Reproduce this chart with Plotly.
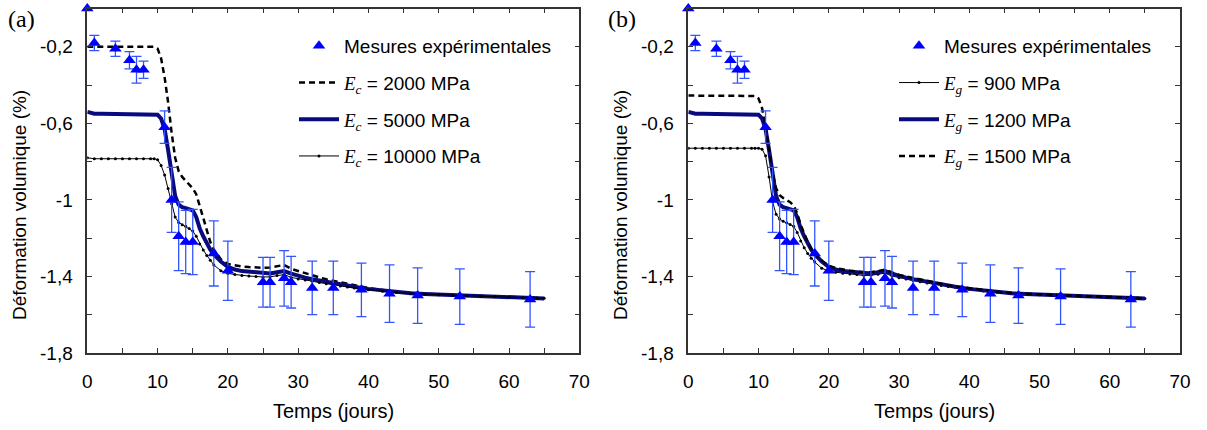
import plotly.graph_objects as go

# experimental measurements (same in both panels)
exp_days = [0, 1, 4, 6, 7, 8, 11, 12, 13, 14, 15, 18, 20, 25, 26, 28, 29, 32, 35, 39, 43, 47, 53, 63]
exp_vals = [0, -0.18, -0.21, -0.27, -0.32, -0.32, -0.62, -1.0, -1.19, -1.22, -1.22, -1.28, -1.37,
            -1.43, -1.43, -1.41, -1.43, -1.46, -1.46, -1.47, -1.49, -1.5, -1.505, -1.52]
exp_err = [0, 0.04, 0.04, 0.045, 0.07, 0.045, 0.085, 0.17, 0.18, 0.165, 0.17, 0.17, 0.155,
           0.13, 0.13, 0.145, 0.135, 0.14, 0.14, 0.14, 0.15, 0.145, 0.145, 0.145]

# simulation time grid (days)
t = [0, 1, 2, 3, 4, 5, 6, 7, 8, 9,
     9.5, 10, 10.5, 11, 11.5, 12, 12.5, 13, 13.5, 14, 14.5, 15, 15.5, 16, 16.5, 17, 17.5,
     18, 19, 20, 21, 22, 23, 24, 25, 26, 27, 28, 29, 30, 31, 32, 33, 34, 35, 36, 37, 38, 39, 40,
     42, 44, 46, 48, 50, 52, 54, 56, 58, 60, 62, 64, 65]

# (a) influence of Ec
ec_2000 = [-0.2] * 10 + [
    -0.2, -0.21, -0.26, -0.36, -0.49, -0.65, -0.78, -0.85, -0.88, -0.9, -0.92, -0.94, -0.97, -1.03, -1.1, -1.16, -1.22,
    -1.26, -1.31, -1.335, -1.343, -1.348, -1.351, -1.353, -1.355, -1.353, -1.345, -1.34, -1.36, -1.372, -1.385,
    -1.397, -1.405, -1.415, -1.423, -1.432, -1.44, -1.448, -1.455, -1.461,
    -1.471, -1.481, -1.487, -1.491, -1.494, -1.497, -1.5, -1.502, -1.505, -1.507, -1.51, -1.513, -1.514]
ec_5000 = [-0.54] + [-0.55] * 9 + [
    -0.55, -0.555, -0.575, -0.63, -0.74, -0.87, -0.98, -1.025, -1.038, -1.043, -1.047, -1.055, -1.09, -1.15, -1.19, -1.23, -1.26,
    -1.285, -1.322, -1.35, -1.364, -1.372, -1.376, -1.38, -1.384, -1.384, -1.378, -1.372, -1.385, -1.398, -1.406,
    -1.414, -1.421, -1.428, -1.436, -1.442, -1.449, -1.455, -1.46, -1.465,
    -1.474, -1.482, -1.488, -1.492, -1.495, -1.498, -1.5, -1.503, -1.505, -1.508, -1.51, -1.513, -1.515]
ec_10000 = [-0.78] + [-0.785] * 9 + [
    -0.785, -0.79, -0.82, -0.87, -0.94, -1.02, -1.09, -1.118, -1.13, -1.138, -1.15, -1.163, -1.19, -1.23, -1.262, -1.29, -1.315,
    -1.34, -1.37, -1.384, -1.39, -1.395, -1.398, -1.4, -1.403, -1.402, -1.395, -1.39, -1.405, -1.413, -1.419,
    -1.425, -1.432, -1.438, -1.445, -1.45, -1.455, -1.46, -1.465, -1.469,
    -1.477, -1.484, -1.489, -1.493, -1.496, -1.499, -1.501, -1.503, -1.505, -1.508, -1.51, -1.513, -1.514]

# (b) influence of Eg
eg_900 = [-0.73] * 10 + [
    -0.73, -0.73, -0.735, -0.77, -0.88, -1.01, -1.075, -1.1, -1.112, -1.12, -1.128, -1.138, -1.17, -1.215, -1.25, -1.28, -1.305,
    -1.325, -1.357, -1.372, -1.378, -1.383, -1.387, -1.39, -1.395, -1.394, -1.388, -1.383, -1.398, -1.407, -1.414,
    -1.421, -1.428, -1.434, -1.441, -1.447, -1.452, -1.457, -1.462, -1.467,
    -1.476, -1.483, -1.488, -1.492, -1.495, -1.498, -1.5, -1.503, -1.505, -1.508, -1.51, -1.513, -1.515]
eg_1200 = [-0.54] + [-0.55] * 9 + [
    -0.55, -0.555, -0.575, -0.63, -0.74, -0.87, -0.98, -1.025, -1.038, -1.043, -1.047, -1.055, -1.09, -1.15, -1.19, -1.23, -1.26,
    -1.285, -1.322, -1.35, -1.364, -1.372, -1.376, -1.38, -1.384, -1.384, -1.378, -1.372, -1.385, -1.398, -1.406,
    -1.414, -1.421, -1.428, -1.436, -1.442, -1.449, -1.455, -1.46, -1.465,
    -1.474, -1.482, -1.488, -1.492, -1.495, -1.498, -1.5, -1.503, -1.505, -1.508, -1.51, -1.513, -1.515]
eg_1500 = [-0.455] * 10 + [
    -0.457, -0.47, -0.52, -0.62, -0.74, -0.86, -0.94, -0.975, -0.99, -1.0, -1.012, -1.03, -1.07, -1.13, -1.18, -1.22, -1.255,
    -1.28, -1.318, -1.343, -1.357, -1.365, -1.37, -1.374, -1.378, -1.378, -1.371, -1.365, -1.379, -1.392, -1.4,
    -1.408, -1.416, -1.424, -1.432, -1.439, -1.446, -1.452, -1.457, -1.462,
    -1.472, -1.48, -1.486, -1.491, -1.494, -1.497, -1.5, -1.502, -1.505, -1.507, -1.51, -1.513, -1.514]

x_ticks = [0, 5, 10, 15, 20, 25, 30, 35, 40, 45, 50, 55, 60, 65, 70]
x_labels = ["0", "", "10", "", "20", "", "30", "", "40", "", "50", "", "60", "", "70"]
y_ticks = [-1.8, -1.6, -1.4, -1.2, -1.0, -0.8, -0.6, -0.4, -0.2, 0]
y_labels = ["-1,8", "", "-1,4", "", "-1", "", "-0,6", "", "-0,2", ""]

SANS = "Liberation Sans, Arial"
SERIF = "Liberation Serif, Times New Roman"
NAVY = "#0a0a80"
BLUE = "#0000ff"
ERR_BLUE = "#3355ff"
FS = 19


def ec_label(sub, val):
    return ("<span style='font-family:Liberation Serif'><i>E</i><sub><i>%s</i></sub></span> = %s MPa"
            % (sub, val))


def add_panel(fig, xa, ya, leg, series):
    # series: list of (name, y, style, rank)
    for name, y, style, rank in series:
        if style == "dash":
            line = dict(color="black", width=2.5, dash="6px,4px")
            mode = "lines"
            marker = None
        elif style == "thick":
            line = dict(color=NAVY, width=4)
            mode = "lines"
            marker = None
        else:
            line = dict(color="black", width=1)
            mode = "lines+markers"
            marker = dict(color="black", size=3)
        fig.add_trace(go.Scatter(
            x=t, y=y, mode=mode, line=line, marker=marker, name=name,
            xaxis=xa, yaxis=ya, legend=leg, legendgroup=leg + name, legendrank=rank,
        ))
    fig.add_trace(go.Scatter(
        x=exp_days, y=exp_vals, mode="markers", name="Mesures expérimentales",
        marker=dict(symbol="triangle-up", color=BLUE, size=11),
        error_y=dict(type="data", array=exp_err, color=ERR_BLUE, thickness=1.3, width=5),
        cliponaxis=False, xaxis=xa, yaxis=ya, legend=leg, legendgroup=leg + "exp", legendrank=1,
    ))


fig = go.Figure()
add_panel(fig, "x", "y", "legend", [
    (ec_label("c", "2000"), ec_2000, "dash", 2),
    (ec_label("c", "5000"), ec_5000, "thick", 3),
    (ec_label("c", "10000"), ec_10000, "thin", 4),
])
add_panel(fig, "x2", "y2", "legend2", [
    (ec_label("g", "900"), eg_900, "thin", 2),
    (ec_label("g", "1200"), eg_1200, "thick", 3),
    (ec_label("g", "1500"), eg_1500, "dash", 4),
])

W, H = 1207, 430
xdom1 = [87.3 / W, 579.3 / W]
xdom2 = [688.3 / W, 1180 / W]
ydom = [1 - 353 / H, 1 - 8.5 / H]

axis_common = dict(showgrid=False, zeroline=False, showline=True, linecolor="#333", linewidth=1.5,
                   mirror="allticks", ticks="inside", ticklen=5, tickwidth=1, tickcolor="#333",
                   automargin=False, tickfont=dict(family=SANS, size=FS, color="black"))
xaxis_common = dict(axis_common, range=[0, 70], tickmode="array", tickvals=x_ticks, ticktext=x_labels,
                    ticklabelstandoff=10)
yaxis_common = dict(axis_common, range=[-1.8, 0], tickmode="array", tickvals=y_ticks, ticktext=y_labels,
                    ticklabelstandoff=9)

legend_common = dict(font=dict(family=SANS, size=FS, color="black"), bgcolor="rgba(0,0,0,0)",
                     traceorder="grouped", tracegroupgap=9, xanchor="left", yanchor="top",
                     itemwidth=40)

annotations = []
for x0, tag in [(21, "(a)"), (622, "(b)")]:
    annotations.append(dict(x=x0 / W, y=1 - 19 / H, xref="paper", yref="paper", text=tag, showarrow=False,
                            xanchor="center", yanchor="middle",
                            font=dict(family=SERIF, size=24, color="black")))
for x0 in [20, 621]:
    annotations.append(dict(x=x0 / W, y=1 - 205 / H, xref="paper", yref="paper",
                            text="Déformation volumique (%)", textangle=-90, showarrow=False,
                            xanchor="center", yanchor="middle",
                            font=dict(family=SANS, size=FS, color="black")))
for x0 in [333, 934]:
    annotations.append(dict(x=x0 / W, y=1 - 411 / H, xref="paper", yref="paper",
                            text="Temps (jours)", showarrow=False, xanchor="center", yanchor="middle",
                            font=dict(family=SANS, size=20, color="black")))

fig.update_layout(
    width=W, height=H,
    margin=dict(l=0, r=0, t=0, b=0, pad=0),
    plot_bgcolor="white", paper_bgcolor="white",
    xaxis=dict(xaxis_common, domain=xdom1, anchor="y"),
    yaxis=dict(yaxis_common, domain=ydom, anchor="x"),
    xaxis2=dict(xaxis_common, domain=xdom2, anchor="y2"),
    yaxis2=dict(yaxis_common, domain=ydom, anchor="x2"),
    legend=dict(legend_common, x=294 / W, y=1 - 27 / H),
    legend2=dict(legend_common, x=894 / W, y=1 - 27 / H),
    annotations=annotations,
    showlegend=True,
)

# drop the default page margin and scrollbars so the figure sits at the window origin
fig.write_html(
    "out.html",
    config={"displayModeBar": False},
    post_script="document.body.style.margin='0';document.body.style.overflow='hidden';"
                "document.documentElement.style.overflow='hidden';",
)
